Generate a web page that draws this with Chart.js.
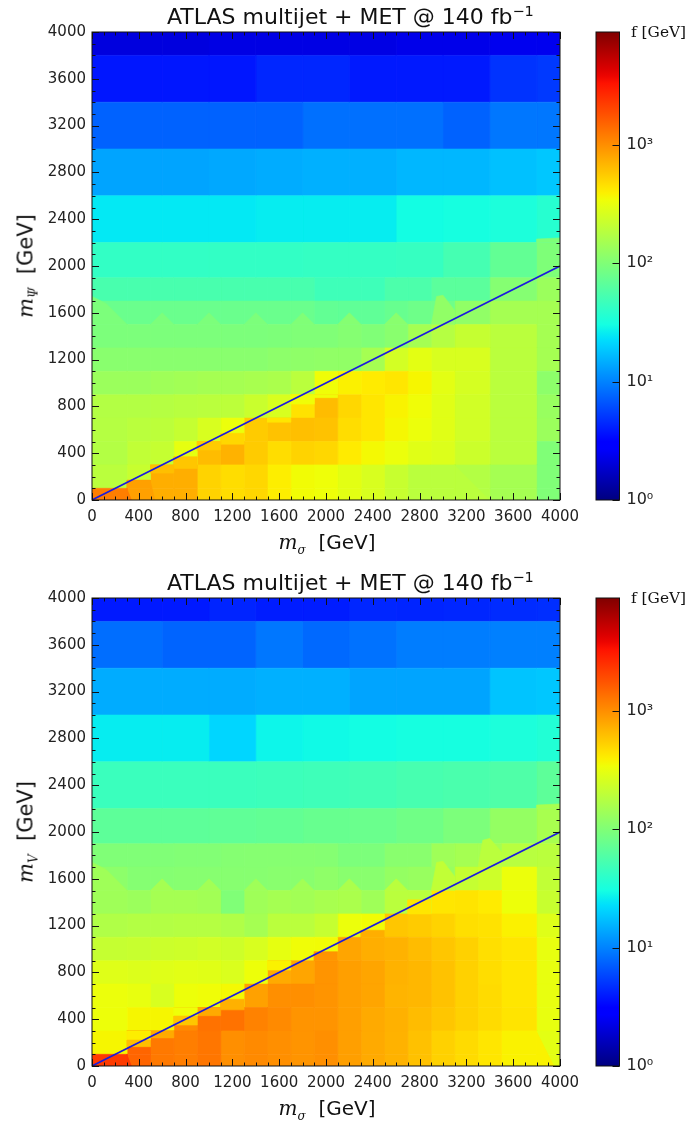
<!DOCTYPE html>
<html>
<head>
<meta charset="utf-8">
<title>ATLAS multijet + MET</title>
<script src="https://cdn.jsdelivr.net/npm/chart.js@4"></script>
<style>
    html, body { margin: 0; padding: 0; background: #fff; }
    body { position: relative; width: 688px; height: 1124px; overflow: hidden; font-family: "DejaVu Sans", sans-serif; color: #111; }
    .panel { position: absolute; left: 0; width: 688px; height: 562px; }
    .panel canvas { position: absolute; top: 0; }
    .txt { position: absolute; white-space: nowrap; line-height: 1; }
    .ttl { left: 167px; top: 6px; font-size: 22px; }
    .ttl sup { font-size: 14.5px; line-height: 0; }
    .xl { left: 327px; top: 532px; font-size: 20px; transform: translateX(-50%); }
    .yl { left: 26px; top: 266px; font-size: 21px; transform: translate(-50%, -50%) rotate(-90deg); }
    .cb { left: 631px; top: 25px; font-size: 15.4px; font-family: "DejaVu Serif", serif; }
    .m { font-family: "DejaVu Serif", serif; font-style: italic; }
    .m sub { font-size: 12px; line-height: 0; }
</style>
</head>
<body>
<div class="panel" style="top:0">
    <canvas id="heatPsi"></canvas><canvas id="barPsi"></canvas>
    <div class="txt ttl">ATLAS multijet + MET @ 140 fb<sup>−1</sup></div>
    <div class="txt xl"><span class="m">m<sub>σ</sub></span>&nbsp; [GeV]</div>
    <div class="txt yl"><span class="m">m<sub>Ψ</sub></span>&nbsp; [GeV]</div>
    <div class="txt cb">f [GeV]</div>
</div>
<div class="panel" style="top:566px">
    <canvas id="heatV"></canvas><canvas id="barV"></canvas>
    <div class="txt ttl">ATLAS multijet + MET @ 140 fb<sup>−1</sup></div>
    <div class="txt xl"><span class="m">m<sub>σ</sub></span>&nbsp; [GeV]</div>
    <div class="txt yl"><span class="m">m<sub>V</sub></span>&nbsp; [GeV]</div>
    <div class="txt cb">f [GeV]</div>
</div>
<script>
// axis values
const massTicks = [0, 400, 800, 1200, 1600, 2000, 2400, 2800, 3200, 3600, 4000];
const fTicks = [1, 10, 100, 1000];
const fTickLabels = ['10⁰', '10¹', '10²', '10³'];
const fMin = 1;
const fMax = 9000;
const massMax = 4000;
const diagonal = [[0, 0], [4000, 2000]];

// row and column edges of the grid, GeV
const yFine = [0, 100, 300, 500, 700, 900, 1100, 1300, 1500, 1700, 1900];
const yCoarse = [1900, 2200, 2600, 3000, 3400, 3800, 4000];
const xCoarse = [0, 600, 1000, 1400, 1800, 2200, 2600, 3000, 3400, 3800, 4000];
const xFinePsi = [0, 300, 500, 700, 900, 1100, 1300, 1500, 1700, 1900, 2100, 2300, 2500, 2700, 2900, 3100, 3400, 3800, 4000];
const xFineV = [0, 300, 500, 700, 900, 1100, 1300, 1500, 1700, 1900, 2100, 2300, 2500, 2700, 2900, 3100, 3300, 3500, 3800, 4000];

// f [GeV], rows from the bottom up
const psiFine = [
    [1180, 850, 740, 740, 520, 470, 500, 400, 350, 340, 300, 265, 220, 190, 190, 175, 150, 100],
    [190, 220, 740, 740, 520, 470, 500, 400, 350, 340, 300, 265, 220, 190, 190, 175, 150, 100],
    [175, 205, 215, 310, 650, 710, 560, 470, 520, 500, 410, 360, 330, 290, 275, 230, 190, 100],
    [180, 190, 195, 215, 265, 330, 560, 610, 630, 610, 470, 430, 365, 330, 290, 245, 190, 135],
    [175, 175, 180, 185, 190, 195, 225, 265, 450, 650, 500, 430, 380, 345, 290, 245, 190, 130],
    [135, 135, 140, 145, 150, 150, 155, 160, 190, 345, 390, 410, 430, 370, 300, 255, 190, 115],
    [110, 110, 110, 110, 110, 110, 110, 115, 118, 120, 120, 150, 250, 300, 265, 265, 190, 150],
    [95, 95, 95, 95, 95, 95, 95, 97, 100, 100, 105, 100, 110, 150, 180, 215, 190, 150],
    [78, 78, 78, 78, 78, 78, 78, 78, 78, 72, 70, 70, 76, 82, 82, 120, 150, 150],
    [54, 54, 54, 54, 54, 54, 54, 54, 54, 48, 48, 48, 56, 56, 66, 66, 105, 135]
];
const psiCoarse = [
    [42, 42, 42, 42, 43, 43, 44, 52, 72, 98],
    [25, 25, 25, 26, 26, 26, 30, 31, 33, 37],
    [13.5, 13.5, 14, 14.5, 15, 15, 16, 16, 17.5, 18.5],
    [7.5, 7.5, 7.5, 7.5, 8.5, 8.5, 8.5, 7.5, 9, 9],
    [3.8, 3.8, 3.8, 4.4, 4.4, 3.9, 3.9, 3.9, 4.9, 5.2],
    [2.1, 2.1, 2.2, 2.2, 2.2, 2.2, 2.3, 2.3, 2.4, 2.4]
];
// cells that break away from the row edges: x0, x1, y0, y1, f
const psiRects = [
    [300, 500, 100, 170, 850], [500, 700, 230, 300, 630], [700, 900, 270, 370, 590],
    [900, 1100, 427, 500, 560], [1100, 1300, 477, 570, 500], [1500, 1700, 665, 700, 430],
    [1700, 1900, 820, 900, 345], [1900, 2100, 875, 900, 345]
];
// triangulated corners of the mesh: f, then x,y pairs
const psiPolys = [
    [95, [0, 1500, 0, 1740, 120, 1680, 300, 1500]],
    [95, [500, 1500, 600, 1600, 700, 1500]], [95, [900, 1500, 1000, 1600, 1100, 1500]],
    [95, [1300, 1500, 1400, 1600, 1500, 1500]], [100, [1700, 1500, 1800, 1600, 1900, 1500]],
    [105, [2100, 1500, 2200, 1600, 2300, 1500]], [110, [2500, 1500, 2600, 1600, 2700, 1500]],
    [120, [2900, 1500, 2945, 1740, 3000, 1750, 3100, 1620, 3100, 1500]],
    [98, [3800, 2200, 3800, 2230, 4000, 2240, 4000, 2200]],
    [1180, [300, 100, 300, 0, 340, 0]], [850, [500, 170, 500, 0, 540, 0]],
    [190, [3100, 300, 3100, 0, 3400, 0]]
];

const vFine = [
    [2250, 1500, 1230, 1180, 1270, 1000, 1050, 1000, 950, 1000, 860, 770, 710, 620, 530, 480, 430, 385, 300],
    [370, 1500, 1230, 1180, 1270, 1000, 1050, 1000, 950, 1000, 860, 770, 710, 620, 530, 480, 430, 385, 300],
    [335, 370, 370, 1050, 1320, 1320, 1130, 1050, 950, 950, 860, 770, 720, 650, 590, 530, 480, 440, 315],
    [330, 315, 265, 335, 345, 360, 840, 1000, 1000, 950, 860, 810, 700, 680, 610, 530, 480, 430, 315],
    [285, 275, 285, 295, 290, 270, 335, 770, 810, 950, 860, 810, 710, 680, 610, 530, 470, 430, 315],
    [215, 220, 230, 235, 245, 235, 265, 310, 345, 350, 810, 740, 710, 650, 590, 530, 460, 430, 315],
    [170, 175, 175, 180, 180, 170, 150, 190, 190, 215, 330, 350, 590, 560, 520, 460, 450, 390, 285],
    [140, 135, 150, 150, 145, 100, 140, 150, 145, 155, 160, 140, 190, 190, 430, 440, 410, 335, 220],
    [115, 105, 105, 108, 108, 108, 108, 110, 110, 118, 110, 110, 125, 130, 130, 215, 235, 330, 205],
    [100, 100, 100, 102, 102, 105, 107, 107, 107, 105, 95, 95, 110, 110, 140, 150, 150, 185, 190]
];
const vCoarse = [
    [68, 68, 70, 72, 76, 78, 84, 95, 125, 155],
    [46, 46, 46, 47, 48, 50, 53, 55, 58, 68],
    [26, 26, 21, 28, 29, 30, 31, 31, 33, 35],
    [14.5, 14.5, 14.5, 15, 15, 13.5, 13.5, 13.5, 18, 18.5],
    [8.3, 7.6, 7.6, 9, 8, 8.6, 9.5, 9.5, 9.8, 9.8],
    [3.9, 3.9, 4.3, 4, 4, 4.4, 4.3, 4.4, 4.6, 4.7]
];
const vRects = [
    [300, 500, 165, 222, 630], [300, 500, 222, 300, 400], [500, 700, 240, 300, 770],
    [700, 900, 350, 427, 590], [700, 900, 427, 500, 340], [900, 1100, 430, 500, 770],
    [1100, 1300, 480, 570, 720], [1500, 1700, 820, 900, 385], [1900, 2100, 900, 977, 950],
    [2300, 2500, 1100, 1160, 740], [2700, 2900, 1300, 1420, 430]
];
const vPolys = [
    [140, [0, 1500, 0, 1740, 120, 1680, 300, 1500]],
    [150, [500, 1500, 600, 1600, 700, 1500]], [145, [900, 1500, 1000, 1600, 1100, 1500]],
    [140, [1300, 1500, 1400, 1600, 1500, 1500]], [145, [1700, 1500, 1800, 1600, 1900, 1500]],
    [160, [2100, 1500, 2200, 1600, 2300, 1500]], [190, [2500, 1500, 2600, 1600, 2700, 1500]],
    [205, [2900, 1500, 2945, 1740, 3000, 1750, 3100, 1620, 3100, 1500]],
    [190, [3300, 1700, 3340, 1930, 3400, 1945, 3500, 1830, 3500, 1700]],
    [155, [3800, 2200, 3800, 2230, 4000, 2240, 4000, 2200]],
    [2250, [300, 100, 300, 0, 340, 0]], [385, [3800, 300, 3800, 0, 3950, 0]]
];

// jet colormap, same break points as matplotlib
const jetR = [[0, 0], [0.35, 0], [0.66, 1], [0.89, 1], [1, 0.5]];
const jetG = [[0, 0], [0.125, 0], [0.375, 1], [0.64, 1], [0.91, 0], [1, 0]];
const jetB = [[0, 0.5], [0.11, 1], [0.34, 1], [0.65, 0], [1, 0]];

function channel(stops, t) {
    for (let i = 1; i < stops.length; i++) {
        if (t <= stops[i][0]) {
            const a = stops[i - 1], b = stops[i];
            return a[1] + (b[1] - a[1]) * (t - a[0]) / (b[0] - a[0]);
        }
    }
    return stops[stops.length - 1][1];
}
function jet(t) {
    const c = [jetR, jetG, jetB].map(s => Math.round(channel(s, t) * 255));
    return 'rgb(' + c.join(',') + ')';
}
const colorOf = f => jet(Math.log10(f / fMin) / Math.log10(fMax / fMin));

function shape(points, f) {
    const color = colorOf(f);
    return {
        data: points.map(p => ({ x: p[0], y: p[1] })),
        showLine: true, fill: 'shape', pointRadius: 0,
        backgroundColor: color, borderColor: color, borderWidth: 0.6
    };
}
const rect = (x0, x1, y0, y1, f) => shape([[x0, y0], [x1, y0], [x1, y1], [x0, y1], [x0, y0]], f);

function gridCells(rows, xs, ys) {
    const out = [];
    rows.forEach((row, j) => row.forEach((f, i) => out.push(rect(xs[i], xs[i + 1], ys[j], ys[j + 1], f))));
    return out;
}

function polyShape(p) {
    const pts = [];
    for (let i = 0; i < p[1].length; i += 2) pts.push([p[1][i], p[1][i + 1]]);
    return shape(pts, p[0]);
}

// first dataset ends up on top
function buildDatasets(fine, coarse, xFine, rects, polys) {
    const line = {
        data: diagonal.map(p => ({ x: p[0], y: p[1] })),
        showLine: true, pointRadius: 0, borderColor: '#1c1cdc', borderWidth: 1.6
    };
    return [line]
        .concat(polys.map(polyShape))
        .concat(rects.map(r => rect(r[0], r[1], r[2], r[3], r[4])))
        .concat(gridCells(fine, xFine, yFine))
        .concat(gridCells(coarse, xCoarse, yCoarse));
}

const tickFont = { family: '"DejaVu Sans"', size: 15 };

// matplotlib style: frame plus ticks pointing inwards on all sides
const heatFrame = {
    id: 'heatFrame',
    afterDraw(chart) {
        const { ctx, chartArea: a, scales } = chart;
        ctx.save();
        ctx.strokeStyle = '#111';
        ctx.lineWidth = 1;
        ctx.beginPath();
        for (let v = 0; v <= massMax; v += 100) {
            const len = v % 400 === 0 ? 7 : 3.5;
            const px = Math.round(scales.x.getPixelForValue(v)) + 0.5;
            const py = Math.round(scales.y.getPixelForValue(v)) + 0.5;
            ctx.moveTo(px, a.bottom); ctx.lineTo(px, a.bottom - len);
            ctx.moveTo(px, a.top); ctx.lineTo(px, a.top + len);
            ctx.moveTo(a.left, py); ctx.lineTo(a.left + len, py);
            ctx.moveTo(a.right, py); ctx.lineTo(a.right - len, py);
        }
        ctx.stroke();
        ctx.strokeRect(a.left, a.top, a.right - a.left, a.bottom - a.top);
        ctx.restore();
    }
};

const barFrame = {
    id: 'barFrame',
    afterDraw(chart) {
        const { ctx, chartArea: a, scales } = chart;
        ctx.save();
        ctx.strokeStyle = '#111';
        ctx.lineWidth = 1;
        ctx.beginPath();
        fTicks.forEach(v => {
            const py = Math.round(scales.y.getPixelForValue(v)) + 0.5;
            ctx.moveTo(a.right, py); ctx.lineTo(a.right - 7, py);
        });
        ctx.stroke();
        ctx.strokeRect(a.left, a.top, a.right - a.left, a.bottom - a.top);
        ctx.restore();
    }
};

function makeHeat(id, datasets) {
    const el = document.getElementById(id);
    el.style.left = '0px';
    el.width = 688; el.height = 562;
    new Chart(el, {
        type: 'scatter',
        data: { datasets: datasets },
        options: {
            responsive: false, animation: false, events: [],
            layout: { padding: { top: 32, right: 128, left: 0, bottom: 0 } },
            plugins: { legend: { display: false }, tooltip: { enabled: false } },
            scales: {
                x: {
                    type: 'linear', min: 0, max: massMax,
                    afterFit: s => { s.height = 62; },
                    afterBuildTicks: s => { s.ticks = massTicks.map(v => ({ value: v })); },
                    grid: { display: false, drawTicks: false }, border: { display: false },
                    ticks: { font: tickFont, color: '#222', padding: 8, maxRotation: 0, autoSkip: false, callback: v => String(v) }
                },
                y: {
                    type: 'linear', min: 0, max: massMax,
                    afterFit: s => { s.width = 92; },
                    afterBuildTicks: s => { s.ticks = massTicks.map(v => ({ value: v })); },
                    grid: { display: false, drawTicks: false }, border: { display: false },
                    ticks: { font: tickFont, color: '#222', padding: 6, autoSkip: false, callback: v => String(v) }
                }
            }
        },
        plugins: [heatFrame]
    });
}

function makeBar(id) {
    const el = document.getElementById(id);
    el.style.left = '570px';
    el.width = 118; el.height = 562;
    new Chart(el, {
        type: 'bar',
        data: {
            labels: ['f [GeV]'],
            datasets: [{
                data: [[fMin, fMax]],
                categoryPercentage: 1, barPercentage: 1,
                backgroundColor(c) {
                    const a = c.chart.chartArea;
                    if (!a) return '#000';
                    const g = c.chart.ctx.createLinearGradient(0, a.bottom, 0, a.top);
                    for (let i = 0; i <= 64; i++) g.addColorStop(i / 64, jet(i / 64));
                    return g;
                }
            }]
        },
        options: {
            responsive: false, animation: false, events: [],
            layout: { padding: { top: 32, right: 0, left: 26, bottom: 62 } },
            plugins: { legend: { display: false }, tooltip: { enabled: false } },
            scales: {
                x: { display: false },
                y: {
                    type: 'logarithmic', position: 'right', min: fMin, max: fMax,
                    afterFit: s => { s.width = 68.5; },
                    afterBuildTicks: s => { s.ticks = fTicks.map(v => ({ value: v })); },
                    grid: { display: false, drawTicks: false }, border: { display: false },
                    ticks: {
                        font: { family: '"DejaVu Sans"', size: 16 }, color: '#222', padding: 7, autoSkip: false,
                        callback: v => fTickLabels[fTicks.indexOf(v)]
                    }
                }
            }
        },
        plugins: [barFrame]
    });
}

makeHeat('heatPsi', buildDatasets(psiFine, psiCoarse, xFinePsi, psiRects, psiPolys));
makeBar('barPsi');
makeHeat('heatV', buildDatasets(vFine, vCoarse, xFineV, vRects, vPolys));
makeBar('barV');
</script>
</body>
</html>
